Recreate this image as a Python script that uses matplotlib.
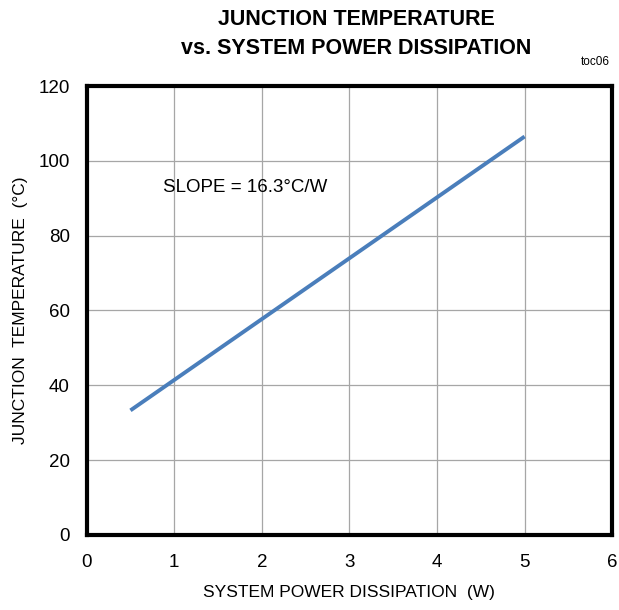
import matplotlib.pyplot as plt
from matplotlib import font_manager

# font: condensed sans like the original, fall back to Liberation Sans
names = {f.name for f in font_manager.fontManager.ttflist}
fam = ['Liberation Sans Narrow'] if 'Liberation Sans Narrow' in names else ['Liberation Sans']
plt.rcParams['font.family'] = fam + ['DejaVu Sans']

power = [0.5, 5.0]          # W
temperature = [33.3, 106.5]  # degC
xticks = [0, 1, 2, 3, 4, 5, 6]
yticks = [0, 20, 40, 60, 80, 100, 120]

fig = plt.figure(figsize=(6.19, 6.10), dpi=100)
ax = fig.add_axes([0.140, 0.123, 0.849, 0.736])

ax.plot(power, temperature, color='#4a7ebb', linewidth=2.8, solid_capstyle='butt')

ax.set_xlim(0, 6)
ax.set_ylim(0, 120)
ax.set_xticks(xticks)
ax.set_yticks(yticks)
ax.grid(True, color='#a6a6a6', linewidth=0.9)
ax.set_axisbelow(True)
ax.tick_params(length=0, labelsize=13.5)
ax.tick_params(axis='x', pad=14)
ax.tick_params(axis='y', pad=12)
for s in ax.spines.values():
    s.set_linewidth(3)
    s.set_color('black')

ax.set_xlabel('SYSTEM POWER DISSIPATION  (W)', fontsize=12.5, labelpad=10)
ax.set_ylabel('JUNCTION  TEMPERATURE  (°C)', fontsize=12.5, labelpad=8)

ax.text(0.87, 93, 'SLOPE = 16.3°C/W', fontsize=13.5, va='center', ha='left')

fig.text(0.575, 0.985, 'JUNCTION TEMPERATURE\nvs. SYSTEM POWER DISSIPATION',
         ha='center', va='top', fontsize=15.5, fontweight='bold', linespacing=1.5)
fig.text(0.986, 0.898, 'toc06', ha='right', va='center', fontsize=8.5)

fig.savefig('out.png', dpi=100)
